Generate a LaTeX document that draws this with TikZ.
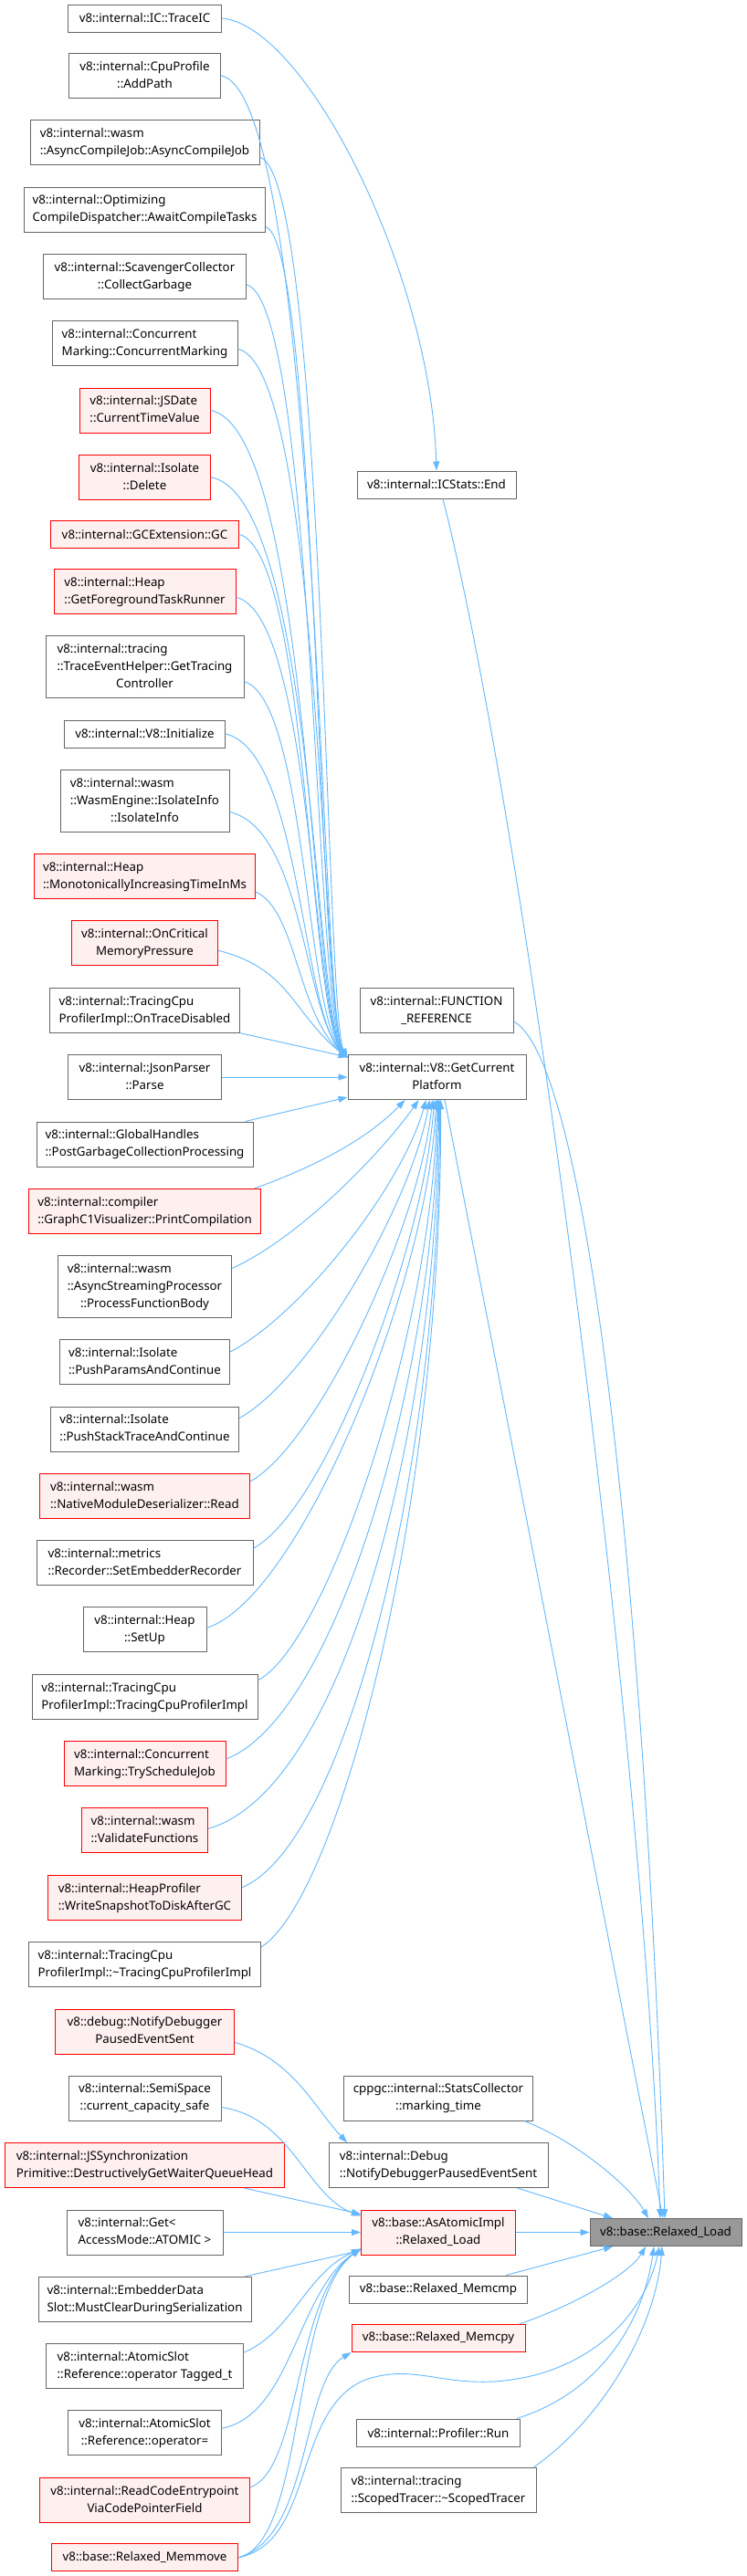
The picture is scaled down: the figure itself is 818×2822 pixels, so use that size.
\documentclass[tikz,border=0pt]{standalone}
\usepackage{fontspec}
\setmainfont{Noto Sans}
\usetikzlibrary{arrows.meta}
\definecolor{edgeblue}{HTML}{63B8FF}
\definecolor{boxgray}{HTML}{666666}
\definecolor{redfill}{HTML}{FFF0F0}
\definecolor{rootfill}{HTML}{999999}
\newcommand{\twol}[2]{\begin{tabular}{@{}l@{}}#1\\\multicolumn{1}{@{}c@{}}{#2}\end{tabular}}
\newcommand{\threel}[3]{\begin{tabular}{@{}l@{}}#1\\#2\\\multicolumn{1}{@{}c@{}}{#3}\end{tabular}}
\tikzset{
  box/.style={draw=boxgray, fill=white, line width=1pt, inner xsep=3pt, inner ysep=1pt,
    font=\fontsize{13.3}{19}\selectfont, text=black},
  redbox/.style={box, draw=red, fill=redfill},
  rootbox/.style={box, draw=boxgray, fill=rootfill},
  oneline/.style={minimum height=30pt},
  twoline/.style={minimum height=49pt},
  threeline/.style={minimum height=68pt},
  edge/.style={draw=edgeblue, line width=0.9pt, -{Triangle[length=10pt,width=7pt]}},
}
\begin{document}
\begin{tikzpicture}[x=1pt,y=-1pt]
\useasboundingbox (0,0) rectangle (818,2822);
\fill[white] (0,0) rectangle (818,2822);
% ---------- left column ----------
\node[box,oneline,minimum width=168pt] (n1) at (158.5,20) {v8::internal::IC::TraceIC};
\node[box,twoline,minimum width=166pt] (n2) at (158.5,82.8) {\twol{v8::internal::CpuProfile}{::AddPath}};
\node[box,twoline,minimum width=251pt] (n3) at (158.5,156.2) {\twol{v8::internal::wasm}{::AsyncCompileJob::AsyncCompileJob}};
\node[box,twoline,minimum width=264pt] (n4) at (158.5,229.5) {\twol{v8::internal::Optimizing}{CompileDispatcher::AwaitCompileTasks}};
\node[box,twoline,minimum width=222pt] (n5) at (158.5,302.8) {\twol{v8::internal::ScavengerCollector}{::CollectGarbage}};
\node[box,twoline,minimum width=203pt] (n6) at (158.5,376.2) {\twol{v8::internal::Concurrent}{Marking::ConcurrentMarking}};
\node[redbox,twoline,minimum width=143pt] (n7) at (158.5,449.5) {\twol{v8::internal::JSDate}{::CurrentTimeValue}};
\node[redbox,twoline,minimum width=143.5pt] (n8) at (158.5,522.8) {\twol{v8::internal::Isolate}{::Delete}};
\node[redbox,oneline,minimum width=205.5pt] (n9) at (158.5,585.3) {v8::internal::GCExtension::GC};
\node[redbox,twoline,minimum width=199pt] (n10) at (158.5,648.2) {\twol{v8::internal::Heap}{::GetForegroundTaskRunner}};
\node[box,threeline,minimum width=217pt] (n11) at (158.5,730.7) {\threel{v8::internal::tracing}{::TraceEventHelper::GetTracing}{Controller}};
\node[box,oneline,minimum width=176.6pt] (n12) at (158.5,804) {v8::internal::V8::Initialize};
\node[box,threeline,minimum width=185pt] (n13) at (158.5,877.4) {\threel{v8::internal::wasm}{::WasmEngine::IsolateInfo}{::IsolateInfo}};
\node[redbox,twoline,minimum width=242pt] (n14) at (158.5,960) {\twol{v8::internal::Heap}{::MonotonicallyIncreasingTimeInMs}};
\node[redbox,twoline,minimum width=160pt] (n15) at (158.5,1033.3) {\twol{v8::internal::OnCritical}{MemoryPressure}};
\node[box,twoline,minimum width=208pt] (n16) at (158.5,1106.7) {\twol{v8::internal::TracingCpu}{ProfilerImpl::OnTraceDisabled}};
\node[box,twoline,minimum width=168pt] (n17) at (158.5,1180) {\twol{v8::internal::JsonParser}{::Parse}};
\node[box,twoline,minimum width=237pt] (n18) at (158.5,1253.5) {\twol{v8::internal::GlobalHandles}{::PostGarbageCollectionProcessing}};
\node[redbox,twoline,minimum width=253.6pt] (n19) at (158.5,1326.8) {\twol{v8::internal::compiler}{::GraphC1Visualizer::PrintCompilation}};
\node[box,threeline,minimum width=190pt] (n20) at (158.5,1409.5) {\threel{v8::internal::wasm}{::AsyncStreamingProcessor}{::ProcessFunctionBody}};
\node[box,twoline,minimum width=186pt] (n21) at (158.5,1492) {\twol{v8::internal::Isolate}{::PushParamsAndContinue}};
\node[box,twoline,minimum width=206.5pt] (n22) at (158.5,1565.5) {\twol{v8::internal::Isolate}{::PushStackTraceAndContinue}};
\node[redbox,twoline,minimum width=230.5pt] (n23) at (158.5,1638.8) {\twol{v8::internal::wasm}{::NativeModuleDeserializer::Read}};
\node[box,twoline,minimum width=237pt] (n24) at (158.5,1712.2) {\twol{v8::internal::metrics}{::Recorder::SetEmbedderRecorder}};
\node[box,twoline,minimum width=135pt] (n25) at (158.5,1785.3) {\twol{v8::internal::Heap}{::SetUp}};
\node[box,twoline,minimum width=247pt] (n26) at (158.5,1858.7) {\twol{v8::internal::TracingCpu}{ProfilerImpl::TracingCpuProfilerImpl}};
\node[redbox,twoline,minimum width=177pt] (n27) at (158.5,1932) {\twol{v8::internal::Concurrent}{Marking::TryScheduleJob}};
\node[redbox,twoline,minimum width=138pt] (n28) at (158.5,2005.3) {\twol{v8::internal::wasm}{::ValidateFunctions}};
\node[redbox,twoline,minimum width=212pt] (n29) at (158.5,2078.7) {\twol{v8::internal::HeapProfiler}{::WriteSnapshotToDiskAfterGC}};
\node[box,twoline,minimum width=254pt] (n30) at (158.5,2152) {\twol{v8::internal::TracingCpu}{ProfilerImpl::\textasciitilde TracingCpuProfilerImpl}};
\node[redbox,twoline,minimum width=196pt] (n31) at (158.5,2225.5) {\twol{v8::debug::NotifyDebugger}{PausedEventSent}};
\node[box,twoline,minimum width=167pt] (n32) at (158.5,2298.5) {\twol{v8::internal::SemiSpace}{::current\_capacity\_safe}};
\node[redbox,twoline,minimum width=306.6pt] (n33) at (158.5,2372) {\twol{v8::internal::JSSynchronization}{Primitive::DestructivelyGetWaiterQueueHead}};
\node[box,twoline,minimum width=171pt] (n34) at (158.5,2445.5) {\twol{v8::internal::Get<}{AccessMode::ATOMIC >}};
\node[box,twoline,minimum width=233pt] (n35) at (158.5,2518.7) {\twol{v8::internal::EmbedderData}{Slot::MustClearDuringSerialization}};
\node[box,twoline,minimum width=216.4pt] (n36) at (158.5,2592) {\twol{v8::internal::AtomicSlot}{::Reference::operator Tagged\_t}};
\node[box,twoline,minimum width=167.6pt] (n37) at (158.5,2665.3) {\twol{v8::internal::AtomicSlot}{::Reference::operator=}};
\node[redbox,twoline,minimum width=230pt] (n38) at (158.5,2738.8) {\twol{v8::internal::ReadCodeEntrypoint}{ViaCodePointerField}};
\node[redbox,oneline,minimum width=204.4pt] (n39) at (158.5,2801.7) {v8::base::Relaxed\_Memmove};
% ---------- middle column ----------
\node[box,oneline,minimum width=174pt] (n40) at (478,531) {v8::internal::ICStats::End};
\node[box,twoline,minimum width=168pt] (n41) at (478,1107) {\twol{v8::internal::FUNCTION}{\_REFERENCE}};
\node[box,twoline,minimum width=195pt] (n42) at (478.5,1180) {\twol{v8::internal::V8::GetCurrent}{Platform}};
\node[box,twoline,minimum width=207pt] (n43) at (480,2298.5) {\twol{cppgc::internal::StatsCollector}{::marking\_time}};
\node[box,twoline,minimum width=240pt] (n44) at (480,2372) {\twol{v8::internal::Debug}{::NotifyDebuggerPausedEventSent}};
\node[redbox,twoline,minimum width=169pt] (n45) at (480,2445.5) {\twol{v8::base::AsAtomicImpl}{::Relaxed\_Load}};
\node[box,oneline,minimum width=195pt] (n46) at (480,2508) {v8::base::Relaxed\_Memcmp};
\node[redbox,oneline,minimum width=190pt] (n47) at (480,2561.5) {v8::base::Relaxed\_Memcpy};
\node[box,oneline,minimum width=178.6pt] (n48) at (480,2665) {v8::internal::Profiler::Run};
\node[box,twoline,minimum width=214pt] (n49) at (480,2727.8) {\twol{v8::internal::tracing}{::ScopedTracer::\textasciitilde ScopedTracer}};
% ---------- root ----------
\node[rootbox,oneline,minimum width=166pt] (n50) at (729,2445.5) {v8::base::Relaxed\_Load};
% ---------- edges: top ----------
\draw[edge] (n1.east) .. controls (335,28) and (472,300) .. (n40.north);
\draw[edge] ([xshift=7pt]n40.south) .. controls (575,900) and (705,1900) .. ([xshift=-6pt]n50.north);
\draw[edge] ([yshift=-12pt]n41.east) .. controls (640,1160) and (705,1700) .. ([xshift=-1pt]n50.north);
\draw[edge] ([xshift=8.5pt]n42.south) -- ([xshift=-3pt]n50.north);
% callers of GetCurrentPlatform from above
\draw[edge] (n2.east) .. controls (350,103) and (350,1110) .. ([yshift=-4pt]n42.north west);
\draw[edge] ([yshift=-16pt]n3.east) .. controls (356,192) and (356,1110) .. ([yshift=-4pt]n42.north west);
\draw[edge] ([yshift=-19pt]n4.east) .. controls (348,268) and (348,1110) .. ([yshift=-4pt]n42.north west);
\draw[edge] ([yshift=-9pt]n5.east) .. controls (345,332) and (345,1110) .. ([yshift=-4pt]n42.north west);
\draw[edge] ([yshift=-6pt]n6.east) .. controls (352,402) and (352,1110) .. ([yshift=-4pt]n42.north west);
\draw[edge] (n7.east) .. controls (340,470) and (340,1110) .. ([yshift=-4pt]n42.north west);
\draw[edge] (n8.east) .. controls (344,543) and (344,1110) .. ([yshift=-4pt]n42.north west);
\draw[edge] (n9.east) .. controls (338,605) and (338,1110) .. ([yshift=-4pt]n42.north west);
\draw[edge] ([yshift=-6pt]n10.east) .. controls (342,674) and (342,1110) .. ([yshift=-4pt]n42.north west);
\draw[edge] ([yshift=-16pt]n11.east) .. controls (335,767) and (335,1110) .. ([yshift=-4pt]n42.north west);
\draw[edge] (n12.east) .. controls (330,824) and (330,1110) .. ([yshift=-4pt]n42.north west);
\draw[edge] ([yshift=-12pt]n13.east) .. controls (333,909) and (333,1110) .. ([yshift=-4pt]n42.north west);
\draw[edge] ([yshift=-17pt]n14.east) .. controls (325,997) and (325,1110) .. ([yshift=-4pt]n42.north west);
\draw[edge] ([yshift=-8pt]n15.east) .. controls (318,1061) and (320,1110) .. ([yshift=-4pt]n42.north west);
\draw[edge] (n16.south east) -- ([yshift=-3pt]n42.north west);
\draw[edge] (n17.east) -- (n42.west);
\draw[edge] ([xshift=-9pt]n18.north east) -- ([yshift=3pt]n42.south west);
% callers of GetCurrentPlatform from below
\draw[edge] ([xshift=-7pt]n19.north east) .. controls (340,1280) and (400,1250) .. ([xshift=-35pt]n42.south);
\draw[edge] ([yshift=20pt]n20.east) .. controls (330,1355) and (420,1260) .. ([xshift=-20pt]n42.south);
\draw[edge] ([yshift=11pt]n21.east) .. controls (330,1440) and (440,1300) .. ([xshift=-12pt]n42.south);
\draw[edge] ([yshift=12pt]n22.east) .. controls (340,1510) and (450,1320) .. ([xshift=-8pt]n42.south);
\draw[edge] ([yshift=16pt]n23.east) .. controls (350,1580) and (460,1340) .. ([xshift=-5pt]n42.south);
\draw[edge] ([yshift=16pt]n24.east) .. controls (360,1650) and (465,1360) .. ([xshift=-3pt]n42.south);
\draw[edge] ([yshift=2pt]n25.east) .. controls (330,1750) and (470,1400) .. ([xshift=-1pt]n42.south);
\draw[edge] ([yshift=18pt]n26.east) .. controls (360,1800) and (475,1450) .. ([xshift=0pt]n42.south);
\draw[edge] ([yshift=5pt]n27.east) .. controls (370,1880) and (478,1500) .. ([xshift=1pt]n42.south);
\draw[edge] ([yshift=2pt]n28.east) .. controls (380,1960) and (480,1550) .. ([xshift=2pt]n42.south);
\draw[edge] ([yshift=11pt]n29.east) .. controls (380,2020) and (483,1600) .. ([xshift=3pt]n42.south);
\draw[edge] ([yshift=19pt]n30.east) .. controls (370,2080) and (485,1650) .. ([xshift=4pt]n42.south);
% ---------- edges: bottom group ----------
\draw[edge] ([yshift=-12pt]n31.east) .. controls (320,2255) and (345,2310) .. ([xshift=-100pt]n44.north);
\draw[edge] ([yshift=-10pt]n32.east) .. controls (320,2320) and (335,2405) .. ([yshift=-7pt]n45.north west);
\draw[edge] ([xshift=-45pt]n33.south east) -- ([yshift=-5pt]n45.north west);
\draw[edge] (n34.east) -- (n45.west);
\draw[edge] ([xshift=-7pt]n35.north east) -- ([yshift=5pt]n45.south west);
\draw[edge] ([yshift=15pt]n36.east) .. controls (320,2555) and (335,2490) .. ([yshift=7pt]n45.south west);
\draw[edge] ([yshift=5pt]n37.east) .. controls (320,2645) and (325,2510) .. ([yshift=7pt]n45.south west);
\draw[edge] ([yshift=14pt]n38.east) .. controls (330,2705) and (322,2515) .. ([yshift=7pt]n45.south west);
\draw[edge] (n39.east) .. controls (335,2785) and (318,2520) .. ([yshift=7pt]n45.south west);
\draw[edge] (n39.east) .. controls (340,2780) and (330,2610) .. (n47.south west);
\draw[edge] (n39.east) .. controls (345,2785) and (320,2640) .. (400,2607)
   .. controls (450,2590) and (480,2612) .. (540,2609)
   .. controls (640,2603) and (705,2540) .. ([xshift=-7pt]n50.south);
\draw[edge] ([xshift=-10pt]n43.south east) .. controls (630,2345) and (690,2395) .. ([xshift=-19pt]n50.north);
\draw[edge] ([xshift=-34pt]n44.south east) -- ([xshift=-58pt]n50.north);
\draw[edge] (n45.east) -- (n50.west);
\draw[edge] ([xshift=-24pt]n46.north east) -- ([xshift=-58pt]n50.south);
\draw[edge] ([xshift=-7pt]n47.north east) .. controls (630,2525) and (690,2490) .. ([xshift=-22pt]n50.south);
\draw[edge] ([xshift=-4pt]n48.north east) .. controls (660,2620) and (705,2540) .. ([xshift=-13pt]n50.south);
\draw[edge] ([xshift=-3pt]n49.north east) .. controls (660,2650) and (718,2550) .. ([xshift=-4pt]n50.south);
\end{tikzpicture}
\end{document}
